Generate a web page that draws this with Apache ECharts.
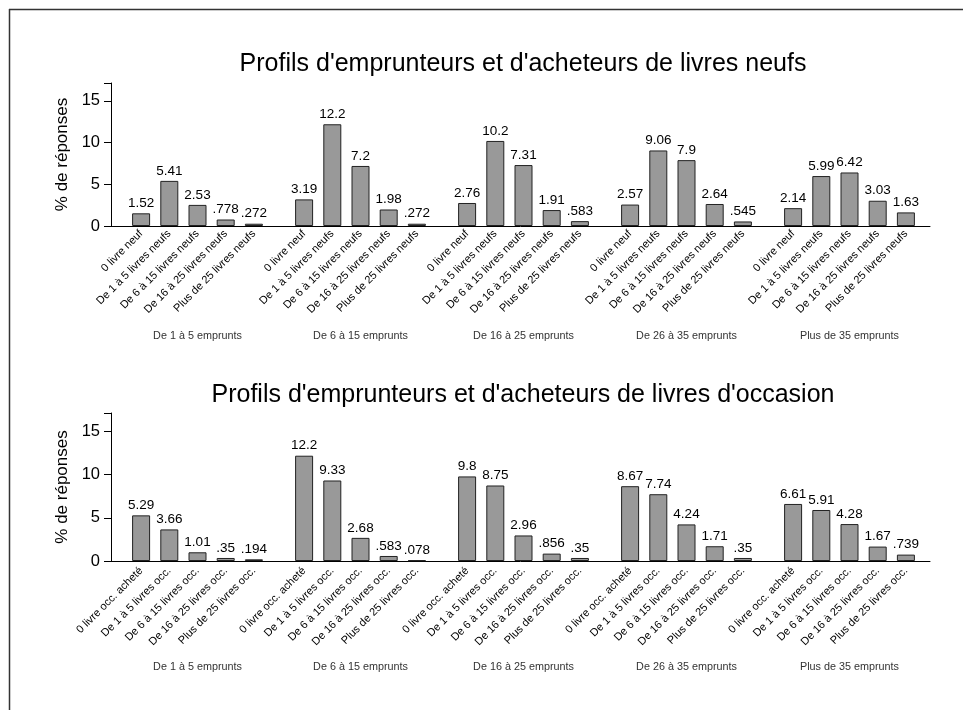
<!DOCTYPE html>
<html>
<head>
<meta charset="utf-8">
<script src="https://cdn.jsdelivr.net/npm/echarts@6/dist/echarts.min.js"></script>
<style>
  html, body { margin: 0; padding: 0; background: #fff; }
  #chart { width: 963px; height: 710px; }
</style>
</head>
<body>
<div id="chart"></div>
<script>
// groupes d'emprunts (un sous-graphique par groupe)
const groups = ['De 1 à 5 emprunts', 'De 6 à 15 emprunts', 'De 16 à 25 emprunts', 'De 26 à 35 emprunts', 'Plus de 35 emprunts'];

const catsNeufs = ['0 livre neuf', 'De 1 à 5 livres neufs', 'De 6 à 15 livres neufs', 'De 16 à 25 livres neufs', 'Plus de 25 livres neufs'];
const catsOcc = ['0 livre occ. acheté', 'De 1 à 5 livres occ.', 'De 6 à 15 livres occ.', 'De 16 à 25 livres occ.', 'Plus de 25 livres occ.'];

// % de réponses, livres neufs
const neufsG1 = [1.52, 5.41, 2.53, 0.778, 0.272];
const neufsG2 = [3.19, 12.2, 7.2, 1.98, 0.272];
const neufsG3 = [2.76, 10.2, 7.31, 1.91, 0.583];
const neufsG4 = [2.57, 9.06, 7.9, 2.64, 0.545];
const neufsG5 = [2.14, 5.99, 6.42, 3.03, 1.63];

// % de réponses, livres d'occasion
const occG1 = [5.29, 3.66, 1.01, 0.35, 0.194];
const occG2 = [12.2, 9.33, 2.68, 0.583, 0.078];
const occG3 = [9.8, 8.75, 2.96, 0.856, 0.35];
const occG4 = [8.67, 7.74, 4.24, 1.71, 0.35];
const occG5 = [6.61, 5.91, 4.28, 1.67, 0.739];

const yTicks = [0, 5, 10, 15];

const FONT = '"Liberation Sans", Arial, sans-serif';
const Y_MAX = 17.15;

// format "à la Stata" : .778 au lieu de 0.778
const fmt = (v) => String(v).replace(/^0\./, '.');

const grids = [];
const xAxes = [];
const yAxes = [];
const series = [];

function addPanel(top, bottom, cats, data, labelMargin, nameGap) {
  const H = 710;
  // grille principale : axe y + ligne de base
  const main = grids.length;
  grids.push({ left: 111, right: 33, top: top, bottom: H - bottom });
  xAxes.push({
    gridIndex: main, type: 'value', min: 0, max: 1,
    axisLine: { show: true, lineStyle: { color: '#000', width: 1 } },
    axisTick: { show: false }, axisLabel: { show: false }, splitLine: { show: false }
  });
  yAxes.push({
    gridIndex: main, type: 'value', min: 0, max: Y_MAX, interval: 5,
    name: '% de réponses', nameLocation: 'middle', nameGap: 40,
    nameTextStyle: { fontFamily: FONT, fontSize: 17, color: '#000' },
    axisLine: { show: true, lineStyle: { color: '#000', width: 1 } },
    axisTick: { show: true, length: 7, lineStyle: { color: '#000' } },
    axisLabel: {
      fontFamily: FONT, fontSize: 16.5, color: '#000', margin: 11,
      formatter: (v) => (yTicks.includes(v) ? String(v) : '')
    },
    splitLine: { show: false }
  });

  // un sous-graphique par groupe d'emprunts
  data.forEach((vals, g) => {
    const gi = grids.length;
    grids.push({ left: 127 + g * 163, width: 141, top: top, bottom: H - bottom });
    xAxes.push({
      gridIndex: gi, type: 'category', data: cats,
      name: groups[g], nameLocation: 'middle', nameGap: nameGap,
      nameTextStyle: { fontFamily: FONT, fontSize: 10.8, color: '#333' },
      axisLine: { show: false }, axisTick: { show: false },
      axisLabel: { interval: 0, rotate: 45, margin: labelMargin, fontFamily: FONT, fontSize: 11, color: '#000' }
    });
    yAxes.push({ gridIndex: gi, type: 'value', min: 0, max: Y_MAX, show: false });
    series.push({
      type: 'bar', xAxisIndex: gi, yAxisIndex: gi, data: vals,
      barWidth: 18, silent: true,
      itemStyle: { color: '#999999', borderColor: '#222', borderWidth: 1 },
      label: {
        show: true, position: 'top', distance: 3,
        fontFamily: FONT, fontSize: 13.5, color: '#000',
        formatter: (p) => fmt(p.value)
      }
    });
  });
}

addPanel(83, 226, catsNeufs, [neufsG1, neufsG2, neufsG3, neufsG4, neufsG5], 6, 105);
addPanel(413, 561, catsOcc, [occG1, occG2, occG3, occG4, occG5], 8, 101);

const chart = echarts.init(document.getElementById('chart'), null, { renderer: 'canvas' });
chart.setOption({
  animation: false,
  backgroundColor: '#fff',
  graphic: [
    { type: 'line', shape: { x1: 9, y1: 9.5, x2: 963, y2: 9.5 }, style: { stroke: '#333', lineWidth: 1.5 } },
    { type: 'line', shape: { x1: 9.5, y1: 9, x2: 9.5, y2: 710 }, style: { stroke: '#333', lineWidth: 1.5 } },
    { type: 'text', x: 523, y: 64, style: {
      text: "Profils d'emprunteurs et d'acheteurs de livres neufs", align: 'center', verticalAlign: 'middle',
      font: '25px ' + FONT, fill: '#000' } },
    { type: 'text', x: 523, y: 395, style: {
      text: "Profils d'emprunteurs et d'acheteurs de livres d'occasion", align: 'center', verticalAlign: 'middle',
      font: '25px ' + FONT, fill: '#000' } }
  ],
  grid: grids,
  xAxis: xAxes,
  yAxis: yAxes,
  series: series
});
window.addEventListener('resize', () => chart.resize());
</script>
</body>
</html>
